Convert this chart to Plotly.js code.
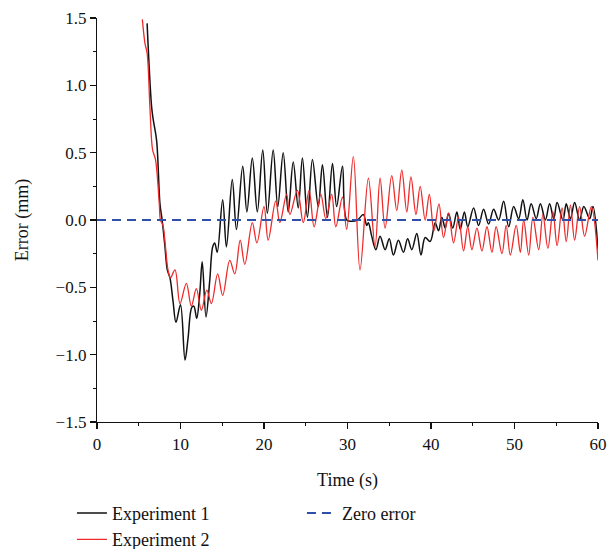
<!DOCTYPE html>
<html>
<head>
<meta charset="utf-8">
<script src="https://cdn.plot.ly/plotly-3.0.1.min.js"></script>
<style>html,body{margin:0;padding:0;background:#fff;}#chart{width:609px;height:549px;}</style>
</head>
<body>
<div id="chart"></div>
<script>
// Experiment 1 (black) — peaks/troughs
const exp1Time = [6.0,6.54,6.75,7.14,7.54,7.8,8.14,8.42,8.74,9.1,9.46,10.0,10.54,10.9,11.34,11.6,11.94,12.3,12.6,13.05,13.5,13.85,14.1,14.4,15.05,15.5,16.2,16.7,17.45,17.95,18.6,19.2,19.85,20.4,21.1,21.65,22.3,22.9,23.5,24.1,24.6,25.2,25.8,26.5,27.0,27.6,28.2,28.7,29.4,29.9,30.5,31.2,31.9,32.3,32.5,32.9,33.4,33.9,34.5,35.0,35.5,36.1,36.7,37.2,37.7,38.3,38.8,39.3,39.9,40.5,40.9,41.3,41.7,42.1,42.6,43.1,43.5,44.0,44.4,45.1,45.7,46.3,46.9,47.5,48.1,48.7,49.3,49.9,50.5,51.0,51.5,52.0,52.6,53.1,53.7,54.2,54.7,55.1,55.8,56.2,56.7,57.2,57.8,58.3,59.0,59.4,60.0];
const exp1Error = [1.46,0.84,0.74,0.59,0.12,0.0,-0.2,-0.37,-0.43,-0.6,-0.76,-0.63,-1.04,-0.88,-0.65,-0.64,-0.73,-0.55,-0.31,-0.72,-0.45,-0.2,-0.17,-0.24,0.15,-0.2,0.30,-0.07,0.40,0.06,0.46,0.06,0.52,0.05,0.52,0.10,0.50,0.06,0.43,0.09,0.46,0.02,0.45,0.10,0.41,0.02,0.42,0.10,0.40,0.0,-0.01,0.0,0.04,-0.04,-0.02,-0.12,-0.22,-0.12,-0.22,-0.14,-0.26,-0.15,-0.24,-0.14,-0.22,-0.10,-0.26,-0.13,-0.16,-0.02,-0.08,0.02,-0.06,0.05,-0.06,0.06,-0.07,0.06,-0.05,0.09,-0.04,0.08,-0.03,0.08,0.0,0.14,-0.05,0.10,0.01,0.15,0.0,0.12,0.01,0.12,0.0,0.12,0.01,0.13,0.0,0.12,0.01,0.13,0.0,0.10,0.01,0.10,-0.22];

// Experiment 2 (red)
const exp2Time = [5.43,5.75,6.0,6.35,6.66,7.0,7.46,7.6,7.9,8.2,8.5,8.8,9.34,9.94,10.7,11.3,11.9,12.5,13.15,13.7,14.45,15.05,15.9,16.5,17.15,17.7,18.6,19.15,20.0,20.5,21.4,21.9,22.7,23.1,24.0,24.7,25.4,26.0,26.8,27.4,28.1,28.6,29.4,29.9,30.7,31.5,32.5,33.3,33.9,34.5,35.3,35.9,36.5,37.1,37.6,38.2,38.7,39.3,39.8,40.35,40.95,41.5,42.1,42.7,43.3,43.9,44.4,44.9,45.5,46.1,46.7,47.3,47.8,48.5,49.0,49.5,50.2,50.7,51.1,51.7,52.2,52.9,53.4,54.0,54.6,55.1,55.7,56.2,56.7,57.2,57.8,58.4,59.2,60.0];
const exp2Error = [1.49,1.31,1.24,0.82,0.52,0.45,0.12,0.0,-0.04,-0.2,-0.37,-0.43,-0.37,-0.62,-0.47,-0.64,-0.51,-0.67,-0.52,-0.62,-0.40,-0.56,-0.30,-0.40,-0.15,-0.33,-0.02,-0.17,0.10,-0.15,0.14,-0.02,0.19,0.04,0.22,-0.02,0.22,-0.05,0.19,0.01,0.19,-0.05,0.17,-0.07,0.47,-0.37,0.31,-0.20,0.31,-0.06,0.33,0.07,0.37,0.06,0.32,0.04,0.25,0.0,0.19,-0.08,0.12,-0.13,0.05,-0.17,0.02,-0.23,-0.05,-0.22,-0.06,-0.23,-0.05,-0.24,-0.05,-0.25,-0.04,-0.26,-0.04,-0.24,0.0,-0.26,0.02,-0.22,0.04,-0.21,0.06,-0.19,0.09,-0.16,0.11,-0.15,0.10,-0.12,0.10,-0.30];

// Zero reference
const zeroTime = [0, 60];
const zeroError = [0, 0];

const seriesNames = ["Experiment 1", "Experiment 2", "Zero error"];
const xTicks = [0,10,20,30,40,50,60];
const yTicks = [-1.5,-1.0,-0.5,0.0,0.5,1.0,1.5];

const serif = "Liberation Serif, Times New Roman, serif";

const traces = [
  {x: exp1Time, y: exp1Error, name: seriesNames[0], type: "scatter", mode: "lines",
   line: {color: "#111111", width: 1.5, shape: "spline", smoothing: 1}, legendrank: 1},
  {x: exp2Time, y: exp2Error, name: seriesNames[1], type: "scatter", mode: "lines",
   line: {color: "#ee2a2a", width: 1.3, shape: "spline", smoothing: 1}, legendrank: 3},
  {x: zeroTime, y: zeroError, name: seriesNames[2], type: "scatter", mode: "lines",
   line: {color: "#2f4fa8", width: 2, dash: "9px,6px"}, legendrank: 2}
];

const layout = {
  width: 609, height: 549,
  margin: {l: 97, r: 11, t: 18, b: 127, autoexpand: false},
  paper_bgcolor: "#fff", plot_bgcolor: "#fff",
  font: {family: serif, size: 17, color: "#111"},
  showlegend: true,
  legend: {orientation: "h", x: -0.05, xanchor: "left", y: -0.18, yanchor: "top",
           entrywidth: 185, entrywidthmode: "pixels", font: {family: serif, size: 18, color: "#111"},
           traceorder: "normal", bgcolor: "rgba(0,0,0,0)"},
  xaxis: {range: [0, 60], tickvals: xTicks, ticks: "outside", ticklen: 6, tickwidth: 1.2,
          tickcolor: "#111", showline: true, linecolor: "#111", linewidth: 1.2,
          showgrid: false, zeroline: false, tickfont: {family: serif, size: 17},
          minor: {dtick: 5, ticks: "outside", ticklen: 3, tickcolor: "#111", tickwidth: 1, showgrid: false},
          title: {text: "Time (s)", font: {family: serif, size: 18}, standoff: 20}},
  yaxis: {range: [-1.5, 1.5], tickvals: yTicks, tickformat: ".1f", ticks: "outside", ticklen: 6,
          tickwidth: 1.2, tickcolor: "#111", showline: true, linecolor: "#111", linewidth: 1.2,
          showgrid: false, zeroline: false, tickfont: {family: serif, size: 17},
          minor: {dtick: 0.25, ticks: "outside", ticklen: 3, tickcolor: "#111", tickwidth: 1, showgrid: false},
          title: {text: "Error (mm)", font: {family: serif, size: 18}, standoff: 22}}
};

Plotly.newPlot("chart", traces, layout, {displayModeBar: false, staticPlot: true});
</script>
</body>
</html>
